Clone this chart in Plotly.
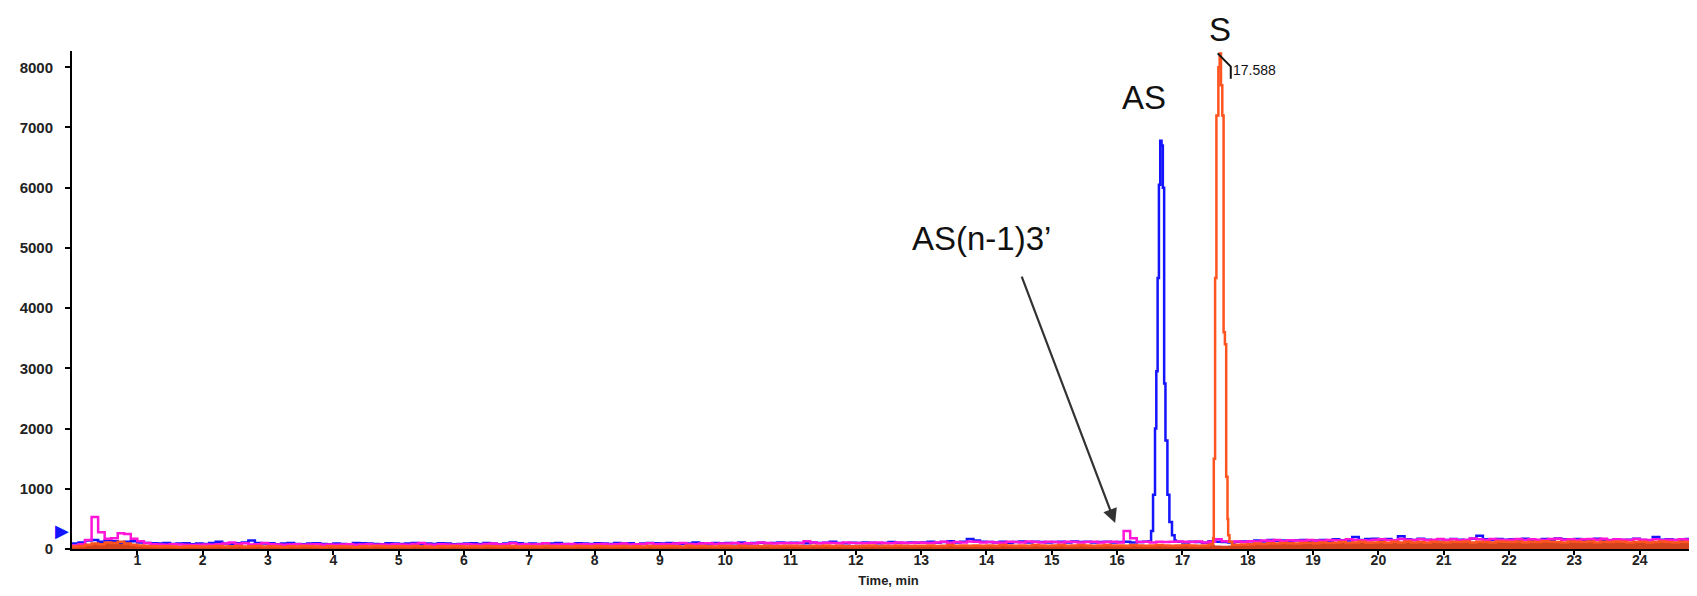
import numpy as np
import plotly.graph_objects as go

# ---------------- data ----------------
# baseline sampling grid, minutes
grid_time = np.round(np.arange(0, 25.0001, 0.1), 1)

blue_base = [
    90,110,140,150,120,140,130,110,120,130,
    110,100,95,90,100,85,90,95,80,90,
    85,100,120,90,80,95,110,140,100,90,
    95,80,90,100,85,80,90,95,85,80,
    90,85,80,100,95,90,85,80,95,90,
    85,90,100,80,90,85,95,90,80,85,
    90,95,85,100,90,80,90,110,95,85,
    90,85,95,90,100,85,80,95,90,85,
    95,90,85,100,90,95,80,90,100,95,
    90,100,95,85,90,110,95,90,100,95,
    100,95,110,90,100,105,95,100,110,100,
    105,100,95,110,100,105,120,100,95,105,
    100,110,105,95,100,115,105,100,110,105,
    110,120,105,115,130,110,120,165,140,120,
    115,110,120,105,115,125,110,120,115,110,
    115,120,110,125,115,120,110,115,120,110,
    115,120,110,115,120,120,120,120,120,120,
    110,120,115,105,130,120,115,110,120,125,
    130,140,125,150,135,140,130,145,150,135,
    140,150,135,160,145,140,200,150,165,170,
    150,165,140,210,160,150,170,155,145,160,
    150,165,155,145,170,220,160,150,165,155,
    160,150,170,155,145,165,150,175,160,150,
    165,150,155,170,150,145,160,150,155,170,
    150,145,200,155,160,150,145,165,150,155,
    150,
]

magenta_base = [
    60,80,150,530,280,170,180,260,250,170,
    130,100,80,75,70,80,75,70,65,70,
    75,70,80,90,110,85,95,75,80,100,
    80,75,70,75,80,70,75,80,70,75,
    70,75,80,70,75,80,70,75,70,80,
    75,70,85,100,75,70,80,75,70,75,
    80,75,70,85,90,75,80,95,75,80,
    75,80,95,70,75,80,85,75,80,75,
    80,85,75,80,90,75,80,85,95,80,
    85,80,90,100,85,80,90,95,85,90,
    90,100,85,95,90,110,100,90,95,100,
    95,100,130,110,95,105,100,95,110,100,
    100,95,105,110,100,95,110,105,100,110,
    105,100,110,120,105,115,110,125,120,110,
    115,110,105,120,115,110,125,115,110,120,
    115,110,120,115,110,115,120,110,115,120,
    110,300,180,115,120,110,120,115,120,125,
    120,115,125,110,120,160,130,120,125,115,
    130,125,140,135,150,130,145,140,135,150,
    140,135,150,145,140,160,150,145,140,155,
    160,150,145,165,155,150,160,145,155,165,
    150,160,145,155,175,160,150,165,155,150,
    155,165,150,160,155,150,165,170,155,160,
    150,160,165,155,170,150,160,155,150,165,
    155,150,160,145,155,150,160,155,150,170,
    250,
]

orange_base = [
    40,50,70,90,80,110,100,120,90,70,
    60,50,45,40,45,40,35,40,45,40,
    40,45,50,40,45,50,40,45,50,40,
    45,40,35,45,40,50,45,40,35,45,
    40,45,40,35,45,40,50,45,40,45,
    45,40,50,45,40,35,45,40,50,45,
    40,45,40,50,45,40,45,50,40,45,
    45,40,50,45,40,45,40,50,45,40,
    50,45,40,45,50,40,45,40,50,45,
    45,50,45,40,55,45,50,45,40,50,
    50,45,55,50,45,50,55,45,50,55,
    55,50,45,55,50,60,50,55,50,45,
    50,55,60,50,55,50,60,55,50,55,
    55,60,50,55,65,55,60,55,60,55,
    60,55,65,60,55,60,55,65,60,55,
    60,65,55,60,65,60,55,60,65,60,
    60,55,65,60,55,60,65,60,55,60,
    65,60,55,60,70,60,55,60,70,75,
    80,90,85,95,90,100,95,90,100,105,
    95,110,100,105,115,100,110,120,105,110,
    115,105,120,110,125,110,115,105,120,115,
    110,120,115,125,110,120,115,110,125,120,
    115,125,110,120,115,130,120,115,110,125,
    120,115,125,110,120,115,125,120,110,115,
    120,110,115,125,115,110,120,115,110,115,
    110,
]

# AS peak (blue)
as_time = [16.48, 16.52, 16.55, 16.58, 16.60, 16.62, 16.64, 16.66, 16.68,
           16.70, 16.72, 16.74, 16.77, 16.80, 16.84, 16.88]
as_vals = [130, 300, 900, 2000, 2950, 4500, 6050, 6780, 6700,
           6000, 2750, 1800, 900, 450, 230, 140]

# S peak (orange)
s_time = [17.44, 17.47, 17.48, 17.50, 17.52, 17.55, 17.57, 17.59, 17.61,
          17.63, 17.65, 17.67, 17.69, 17.70, 17.72, 17.76]
s_vals = [80, 180, 1500, 4500, 7200, 8000, 8230, 7700, 7200,
          3600, 3400, 1200, 500, 230, 120, 70]

y_ticks = [0, 1000, 2000, 3000, 4000, 5000, 6000, 7000, 8000]
y_tick_text = ["0", "1000", "2000", "3000", "4000", "5000", "6000", "7000", "8000"]
x_ticks = list(range(1, 25))
x_tick_text = [str(v) for v in x_ticks]

rt_label = "17.588"
Y_MAX = 8270
X_MAX = 25.0
# ----------------------------------------------------------------

assert len(blue_base) == len(grid_time) == len(magenta_base) == len(orange_base)


def merge(gt, gv, pt=None, pv=None):
    if pt is None:
        return list(gt), list(gv)
    lo, hi = pt[0], pt[-1]
    pts = [(t, v) for t, v in zip(gt, gv) if t < lo or t > hi]
    pts += list(zip(pt, pv))
    pts.sort()
    return [p[0] for p in pts], [p[1] for p in pts]


bt, bv = merge(grid_time, blue_base, as_time, as_vals)
mt, mv = merge(grid_time, magenta_base)
ot, ov = merge(grid_time, orange_base, s_time, s_vals)

BLUE = "#1414ff"
MAGENTA = "#ff14d8"
ORANGE = "#ff5420"

fig = go.Figure()
# dark-orange baseline band (baseline only, no peak)
fig.add_trace(go.Scatter(x=list(grid_time), y=orange_base, mode="lines",
                         line=dict(color="#c8401a", width=0, shape="hv"),
                         fill="tozeroy", fillcolor="#d2421c", showlegend=False,
                         hoverinfo="skip"))
fig.add_trace(go.Scatter(x=bt, y=bv, mode="lines", line=dict(color=BLUE, width=2.5, shape="hv"),
                         showlegend=False))
fig.add_trace(go.Scatter(x=mt, y=mv, mode="lines", line=dict(color=MAGENTA, width=2.5, shape="hv"),
                         showlegend=False))
fig.add_trace(go.Scatter(x=ot, y=ov, mode="lines", line=dict(color=ORANGE, width=2.5, shape="hv"),
                         showlegend=False))

s_peak_t = s_time[int(np.argmax(s_vals))]
s_peak_v = max(s_vals)
as_peak_t = as_time[int(np.argmax(as_vals))]
as_peak_v = max(as_vals)

label_font = dict(family="Liberation Sans, Arial, sans-serif", size=33, color="#111111")

annotations = [
    dict(x=s_peak_t, y=(s_peak_v + 400) / Y_MAX, text="S", showarrow=False, font=label_font,
         xref="x", yref="paper", xanchor="center", yanchor="middle"),
    dict(x=as_peak_t - 0.25, y=as_peak_v + 720, text="AS", showarrow=False, font=label_font,
         xref="x", yref="y", xanchor="center", yanchor="middle"),
    dict(x=13.92, y=5160, text="AS(n-1)3\u2019", showarrow=False, font=label_font,
         xref="x", yref="y", xanchor="center", yanchor="middle"),
    dict(x=15.97, y=430, ax=-94, ay=-248, text="", showarrow=True, arrowhead=2,
         arrowsize=1.3, arrowwidth=2.2, arrowcolor="#333333", xref="x", yref="y"),
    dict(x=s_peak_t + 0.17, y=s_peak_v - 280, text=rt_label, showarrow=False,
         xanchor="left", yanchor="middle",
         font=dict(family="Liberation Sans, Arial, sans-serif", size=14, color="#111111"),
         xref="x", yref="y"),
    dict(x=-0.006, y=300 / Y_MAX, text="\u25B6", showarrow=False,
         xanchor="center", yanchor="middle",
         font=dict(family="DejaVu Sans", size=18, color=BLUE), xref="paper", yref="paper"),
]

shapes = [
    dict(type="path", xref="x", yref="y",
         path=f"M {s_peak_t - 0.03} {s_peak_v} L {s_peak_t + 0.17} {s_peak_v - 220} "
              f"L {s_peak_t + 0.17} {s_peak_v - 420}",
         line=dict(color="#111111", width=2)),
]

tick_font = dict(family="Liberation Sans, Arial, sans-serif", size=15, color="#222222",
                 weight="bold")

fig.update_layout(
    width=1697, height=596,
    margin=dict(l=64, r=0, t=43, b=55),
    paper_bgcolor="white", plot_bgcolor="white",
    annotations=annotations, shapes=shapes,
    xaxis=dict(range=[0, X_MAX], tickmode="array", tickvals=x_ticks, ticktext=x_tick_text,
               showgrid=False, zeroline=False, showline=True, linecolor="#000000", linewidth=2,
               ticks="outside", ticklen=4, tickwidth=2, tickcolor="#000000",
               tickfont=dict(family="Liberation Sans, Arial, sans-serif", size=14,
                             color="#222222", weight="bold"),
               ticklabelstandoff=-7,
               title=dict(text="Time, min", font=dict(family="Liberation Sans, Arial, sans-serif",
                                                       size=13, color="#222222", weight="bold"),
                          standoff=9)),
    yaxis=dict(range=[0, Y_MAX], tickmode="array", tickvals=y_ticks, ticktext=y_tick_text,
               showgrid=False, zeroline=False, showline=True, linecolor="#000000", linewidth=2,
               ticks="outside", ticklen=5, tickwidth=2, tickcolor="#000000",
               tickfont=tick_font, ticklabelstandoff=9),
)

fig.write_html("out.html")
